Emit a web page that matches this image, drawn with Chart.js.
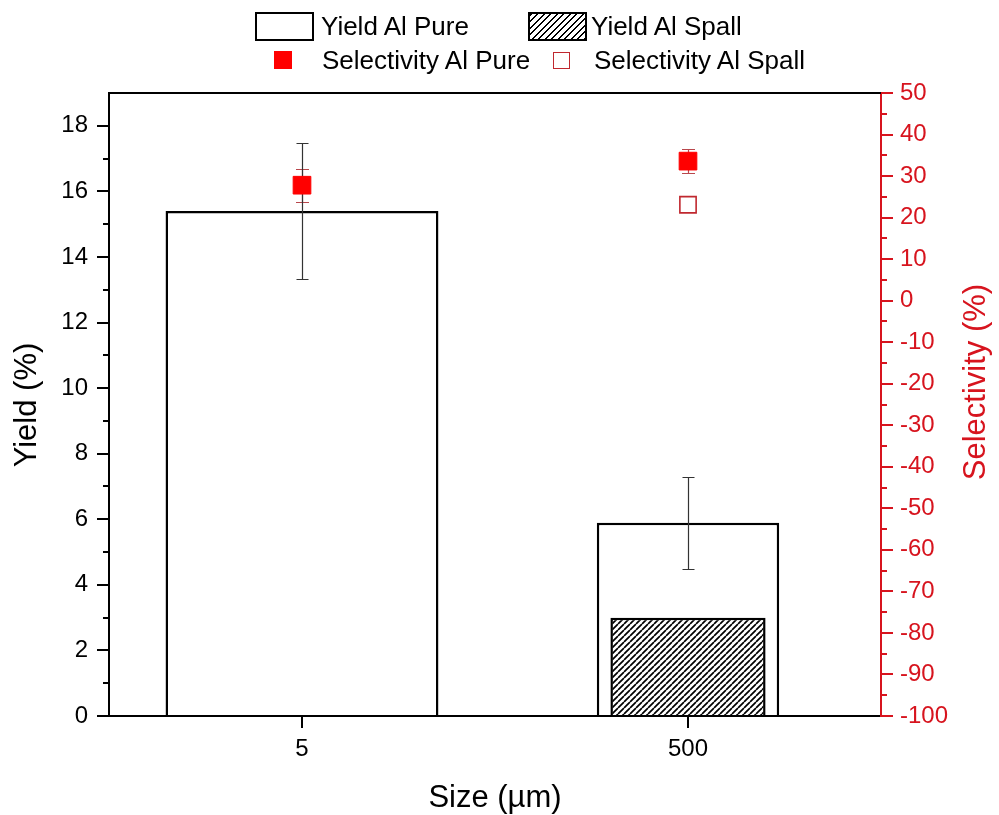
<!DOCTYPE html>
<html>
<head>
<meta charset="utf-8">
<script src="https://cdn.jsdelivr.net/npm/chart.js@4.4.0/dist/chart.umd.min.js"></script>
<style>
  html, body { margin: 0; padding: 0; background: #fff; }
  #wrap { position: relative; width: 999px; height: 815px; }
  #legend { position: absolute; left: 0; top: 0; font-family: "Liberation Sans", Arial, sans-serif; font-size: 26px; color: #000; }
  .sw, .lt { position: absolute; box-sizing: border-box; white-space: nowrap; }
</style>
</head>
<body>
<div id="wrap">
  <canvas id="chart" width="999" height="815"></canvas>
  <div id="legend"></div>
</div>
<script>
// data
const categories = ["5", "500"];
const yieldPure = [15.4, 5.89];
const yieldPureErr = [2.07, 1.4];
const yieldSpall = [null, 3.0];
const selectivityPure = [27.8, 33.6];
const selectivityPureErr = [4.0, 2.9];
const selectivitySpall = [null, 23.1];
const yieldTicks = [0, 2, 4, 6, 8, 10, 12, 14, 16, 18];
const selectivityTicks = [-100, -90, -80, -70, -60, -50, -40, -30, -20, -10, 0, 10, 20, 30, 40, 50];

const FONT = "'Liberation Sans', Arial, sans-serif";
const RED_AXIS = "#d7141e";
const RED_MARK = "#ff0000";
const RED_EDGE = "#c0282f";

function makeHatch(ctx) {
    const s = 6;
    const c = document.createElement("canvas");
    c.width = s;
    c.height = s;
    const g = c.getContext("2d");
    g.fillStyle = "#fff";
    g.fillRect(0, 0, s, s);
    g.strokeStyle = "#000";
    g.lineWidth = 1.7;
    g.beginPath();
    for (let k = -1; k <= 1; k++) {
        g.moveTo(k * s, s);
        g.lineTo(k * s + s, 0);
    }
    g.stroke();
    return ctx.createPattern(c, "repeat");
}

function drawErrors(chart, axisId, values, errs, color, cap, width) {
    const ctx = chart.ctx;
    const xs = chart.scales.x;
    const ys = chart.scales[axisId];
    ctx.save();
    ctx.strokeStyle = color;
    ctx.lineWidth = width;
    values.forEach((v, i) => {
        if (v == null || errs[i] == null) return;
        const px = Math.round(xs.getPixelForValue(i)) + 0.5;
        const top = Math.round(ys.getPixelForValue(v + errs[i])) + 0.5;
        const bot = Math.round(ys.getPixelForValue(v - errs[i])) + 0.5;
        ctx.beginPath();
        ctx.moveTo(px, top); ctx.lineTo(px, bot);
        ctx.moveTo(px - cap, top); ctx.lineTo(px + cap, top);
        ctx.moveTo(px - cap, bot); ctx.lineTo(px + cap, bot);
        ctx.stroke();
    });
    ctx.restore();
}

function midpoints(ticks) {
    const out = [];
    for (let i = 0; i < ticks.length - 1; i++) out.push((ticks[i] + ticks[i + 1]) / 2);
    return out;
}

// error bars sit under the selectivity markers but over the bars
let errorsDrawn = false;
const errorBars = {
    id: "errorBars",
    beforeDatasetsDraw() { errorsDrawn = false; },
    beforeDatasetDraw(chart, args) {
        if (errorsDrawn || args.meta.type !== "line") return;
        errorsDrawn = true;
        drawErrors(chart, "y1", selectivityPure, selectivityPureErr, "#b9474c", 6.5, 1.2);
        drawErrors(chart, "y", yieldPure, yieldPureErr, "#333", 6, 1.2);
    }
};

const frameAndTitles = {
    id: "frameAndTitles",
    afterDraw(chart) {
        const ctx = chart.ctx;
        const a = chart.chartArea;
        const yl = chart.scales.y;
        const yr = chart.scales.y1;
        ctx.save();
        // top frame
        ctx.strokeStyle = "#000";
        ctx.lineWidth = 2;
        ctx.beginPath();
        ctx.moveTo(a.left, a.top);
        ctx.lineTo(a.right, a.top);
        ctx.stroke();
        // minor ticks
        ctx.lineWidth = 2;
        ctx.beginPath();
        midpoints(yieldTicks).forEach(v => {
            const py = Math.round(yl.getPixelForValue(v));
            ctx.moveTo(a.left - 6, py); ctx.lineTo(a.left, py);
        });
        ctx.stroke();
        ctx.strokeStyle = RED_AXIS;
        ctx.beginPath();
        midpoints(selectivityTicks).forEach(v => {
            const py = Math.round(yr.getPixelForValue(v));
            ctx.moveTo(a.right, py); ctx.lineTo(a.right + 6, py);
        });
        ctx.stroke();
        // axis titles
        ctx.font = "31px " + FONT;
        ctx.textAlign = "center";
        ctx.textBaseline = "alphabetic";
        ctx.fillStyle = "#000";
        ctx.fillText("Size (µm)", (a.left + a.right) / 2, 807);
        ctx.save();
        ctx.translate(36, 405);
        ctx.rotate(-Math.PI / 2);
        ctx.fillText("Yield (%)", 0, 0);
        ctx.restore();
        ctx.fillStyle = RED_AXIS;
        ctx.translate(985, 382);
        ctx.rotate(-Math.PI / 2);
        ctx.fillText("Selectivity (%)", 0, 0);
        ctx.restore();
    }
};

const ctx = document.getElementById("chart").getContext("2d");
const hatch = makeHatch(ctx);
const tickFont = { family: FONT, size: 24 };

const chart = new Chart(ctx, {
    type: "bar",
    data: {
        labels: categories,
        datasets: [
            {
                label: "Yield Al Pure",
                data: [yieldPure[0], null],
                backgroundColor: "#fff",
                borderColor: "#000",
                borderWidth: 2.5,
                barPercentage: 0.707,
                order: 3,
            },
            {
                label: "Yield Al Pure",
                data: [null, yieldPure[1]],
                backgroundColor: "#fff",
                borderColor: "#000",
                borderWidth: 2.5,
                barPercentage: 0.4725,
                order: 3,
            },
            {
                label: "Yield Al Spall",
                data: yieldSpall,
                backgroundColor: hatch,
                borderColor: "#000",
                borderWidth: 2.5,
                barPercentage: 0.402,
                order: 2,
            },
            {
                type: "line",
                label: "Selectivity Al Pure",
                data: selectivityPure,
                yAxisID: "y1",
                showLine: false,
                pointStyle: "rect",
                pointRadius: 12.5,
                backgroundColor: RED_MARK,
                borderColor: RED_MARK,
                borderWidth: 1,
                order: 1,
            },
            {
                type: "line",
                label: "Selectivity Al Spall",
                data: selectivitySpall,
                yAxisID: "y1",
                showLine: false,
                pointStyle: "rect",
                pointRadius: 11.5,
                backgroundColor: "#fff",
                borderColor: RED_EDGE,
                borderWidth: 1.6,
                order: 0,
            },
        ],
    },
    options: {
        responsive: false,
        animation: false,
        devicePixelRatio: 1,
        layout: { padding: { top: 93 } },
        datasets: { bar: { grouped: false, categoryPercentage: 1 } },
        plugins: {
            legend: { display: false },
            tooltip: { enabled: false },
        },
        scales: {
            x: {
                offset: true,
                grid: { offset: false, drawOnChartArea: false, tickLength: 12, color: "#000", lineWidth: 2 },
                border: { color: "#000", width: 2 },
                ticks: { font: tickFont, color: "#000", padding: 7, maxRotation: 0 },
                afterFit: s => { s.height = 99; },
            },
            y: {
                position: "left",
                min: 0,
                max: 19,
                afterBuildTicks: s => { s.ticks = yieldTicks.map(v => ({ value: v })); },
                grid: { drawOnChartArea: false, tickLength: 12, color: "#000", lineWidth: 2 },
                border: { color: "#000", width: 2 },
                ticks: { font: tickFont, color: "#000", padding: 9 },
                afterFit: s => { s.width = 109; },
            },
            y1: {
                position: "right",
                min: -100,
                max: 50,
                afterBuildTicks: s => { s.ticks = selectivityTicks.map(v => ({ value: v })); },
                grid: { drawOnChartArea: false, tickLength: 12, color: RED_AXIS, lineWidth: 2 },
                border: { color: RED_AXIS, width: 2 },
                ticks: { font: tickFont, color: RED_AXIS, padding: 7 },
                afterFit: s => { s.width = 118; },
            },
        },
    },
    plugins: [errorBars, frameAndTitles],
});

// html legend, two rows like the original
const legendLayout = [
    { label: "Yield Al Pure", x: 255, cy: 26, w: 59, h: 29, style: "background:#fff;border:2px solid #000;", tx: 321 },
    { label: "Yield Al Spall", x: 528, cy: 26, w: 59, h: 29, style: "background:repeating-linear-gradient(135deg,#000 0 1.6px,#fff 1.6px 4.6px);border:2px solid #000;", tx: 591 },
    { label: "Selectivity Al Pure", x: 274, cy: 60, w: 18, h: 18, style: "background:" + RED_MARK + ";", tx: 322 },
    { label: "Selectivity Al Spall", x: 553, cy: 60, w: 17, h: 17, style: "background:#fff;border:1.5px solid " + RED_EDGE + ";", tx: 594 },
];
const legend = document.getElementById("legend");
const labels = new Set(chart.data.datasets.map(d => d.label));
legendLayout.filter(item => labels.has(item.label)).forEach(item => {
    const sw = document.createElement("div");
    sw.className = "sw";
    sw.style.cssText = `left:${item.x}px;top:${item.cy - item.h / 2}px;width:${item.w}px;height:${item.h}px;` + item.style;
    legend.appendChild(sw);
    const t = document.createElement("div");
    t.className = "lt";
    t.textContent = item.label;
    t.style.cssText = `left:${item.tx}px;top:${item.cy - 15}px;line-height:30px;`;
    legend.appendChild(t);
});
</script>
</body>
</html>
